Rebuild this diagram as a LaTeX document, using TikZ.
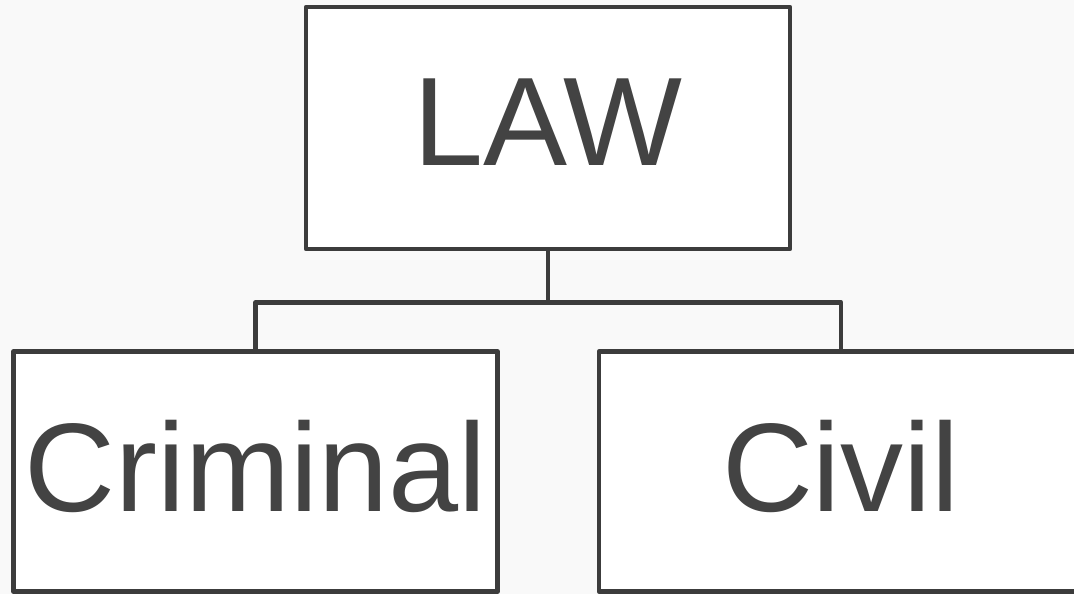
\documentclass[tikz,border=0pt]{standalone}
\usepackage{fontspec}
\setmainfont{Liberation Sans}
\definecolor{bgc}{HTML}{F9F9F9}
\definecolor{linec}{HTML}{3C3C3C}
\definecolor{textc}{HTML}{434343}
\begin{document}
\begin{tikzpicture}[x=1pt,y=-1pt,
  box/.style={draw=linec, fill=white, line width=4.5pt, line join=round,
    rectangle, inner sep=0pt, minimum width=484pt, minimum height=242pt,
    text=textc, font=\fontsize{126}{126}\selectfont, text depth=12pt},
  conn/.style={draw=linec, line width=4.5pt, line join=round}]
\fill[bgc] (0,0) rectangle (1074,594);
\useasboundingbox (0,0) rectangle (1074,594);
\clip (0,0) rectangle (1074,594);
\node[box] (law) at (548,128) {LAW};
\node[box, minimum height=240pt] (crim) at (255.5,471.5) {Criminal};
\node[box, minimum height=240pt] (civil) at (841,471.5) {Civil};
\draw[conn] (law.south) -- ++(0,51) coordinate (split);
\draw[conn] (split) -| (crim.north);
\draw[conn] (split) -| (civil.north);
\end{tikzpicture}
\end{document}
